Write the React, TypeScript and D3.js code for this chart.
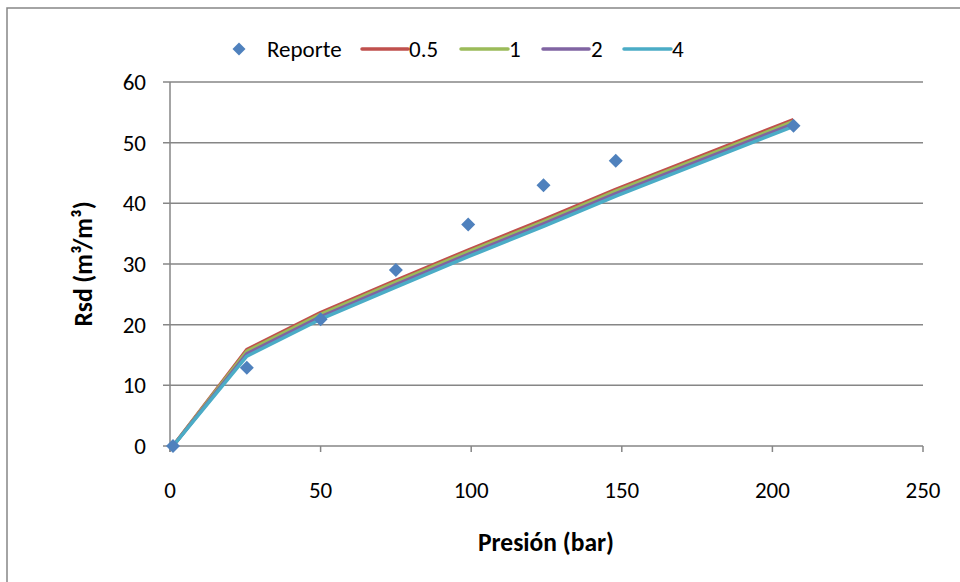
import React from "react";
import * as d3 from "d3";

const pressures = [1, 25.5, 50, 75, 99, 124, 148, 207];
const reporte = [0, 12.9, 20.9, 29.0, 36.5, 43.0, 47.0, 52.8];
const seriesNames = ["0.5", "1", "2", "4"];
const s05 = [0, 15.9, 22.0, 27.3, 32.3, 37.3, 42.3, 53.8];
const s1 = [0, 15.6, 21.7, 27.0, 32.0, 37.0, 42.0, 53.5];
const s2 = [0, 15.2, 21.3, 26.6, 31.6, 36.6, 41.6, 53.1];
const s4 = [0, 14.8, 20.9, 26.2, 31.2, 36.2, 41.2, 52.7];
const seriesValues = [s05, s1, s2, s4];
const seriesColors = ["#C0504D", "#9BBB59", "#8064A2", "#4BACC6"];
const xTicks = [0, 50, 100, 150, 200, 250];
const yTicks = [0, 10, 20, 30, 40, 50, 60];

const W = 960;
const H = 582;
const FONT = "Carlito, Calibri, 'Open Sans', sans-serif";

export default function App() {
  const x = d3.scaleLinear().domain([0, 250]).range([170, 923]);
  const y = d3.scaleLinear().domain([0, 60]).range([446, 82]);
  const line = d3
    .line<number>()
    .x((_, i) => x(pressures[i]))
    .y((d) => y(d));
  const diamond = (cx: number, cy: number, r: number) =>
    `M${cx},${cy - r}L${cx + r},${cy}L${cx},${cy + r}L${cx - r},${cy}Z`;

  const legendLines = [
    { x1: 362, x2: 408, tx: 409 },
    { x1: 461, x2: 508, tx: 509 },
    { x1: 543, x2: 589, tx: 591 },
    { x1: 624, x2: 671, tx: 672 },
  ];

  return (
    <svg
      width={W}
      height={H}
      style={{ position: "absolute", left: 0, top: 0, background: "#fff" }}
      fontFamily={FONT}
    >
      <rect x={0} y={0} width={W} height={H} fill="#fff" />
      <rect x={7} y={8} width={W + 20} height={H + 20} fill="none" stroke="#868686" strokeWidth={1.5} />
      {yTicks.map((t) => (
        <line key={"g" + t} x1={163} x2={923} y1={y(t)} y2={y(t)} stroke="#868686" strokeWidth={1.5} />
      ))}
      <line x1={170} x2={170} y1={82} y2={452} stroke="#868686" strokeWidth={1.5} />
      {xTicks.map((t) => (
        <line key={"xt" + t} x1={x(t)} x2={x(t)} y1={446} y2={452} stroke="#868686" strokeWidth={1.5} />
      ))}
      {yTicks.map((t) => (
        <text key={"yl" + t} x={146} y={y(t)} dy="0.35em" textAnchor="end" fontSize={23} fill="#000">
          {t}
        </text>
      ))}
      {xTicks.map((t) => (
        <text key={"xl" + t} x={x(t)} y={490} dy="0.35em" textAnchor="middle" fontSize={23} fill="#000">
          {t}
        </text>
      ))}
      {seriesValues.map((vals, i) => (
        <path
          key={"s" + i}
          d={line(vals) || ""}
          fill="none"
          stroke={seriesColors[i]}
          strokeWidth={3.5}
          strokeLinejoin="round"
        />
      ))}
      {reporte.map((v, i) => (
        <path key={"p" + i} d={diamond(x(pressures[i]), y(v), 7)} fill="#4F81BD" />
      ))}
      <text x={546} y={542} dy="0.35em" textAnchor="middle" fontSize={25.5} fontWeight="bold" fill="#000">
        Presión (bar)
      </text>
      <text
        transform={`translate(83,264) rotate(-90)`}
        dy="0.35em"
        textAnchor="middle"
        fontSize={25.5}
        fontWeight="bold"
        fill="#000"
      >
        Rsd (m³/m³)
      </text>
      <path d={diamond(239, 49, 6.5)} fill="#4F81BD" />
      <text x={267} y={49} dy="0.35em" fontSize={23} fill="#000">
        Reporte
      </text>
      {legendLines.map((l, i) => (
        <g key={"lg" + i}>
          <line x1={l.x1} x2={l.x2} y1={49} y2={49} stroke={seriesColors[i]} strokeWidth={3.5} strokeLinecap="round" />
          <text x={l.tx} y={49} dy="0.35em" fontSize={23} fill="#000">
            {seriesNames[i]}
          </text>
        </g>
      ))}
    </svg>
  );
}
